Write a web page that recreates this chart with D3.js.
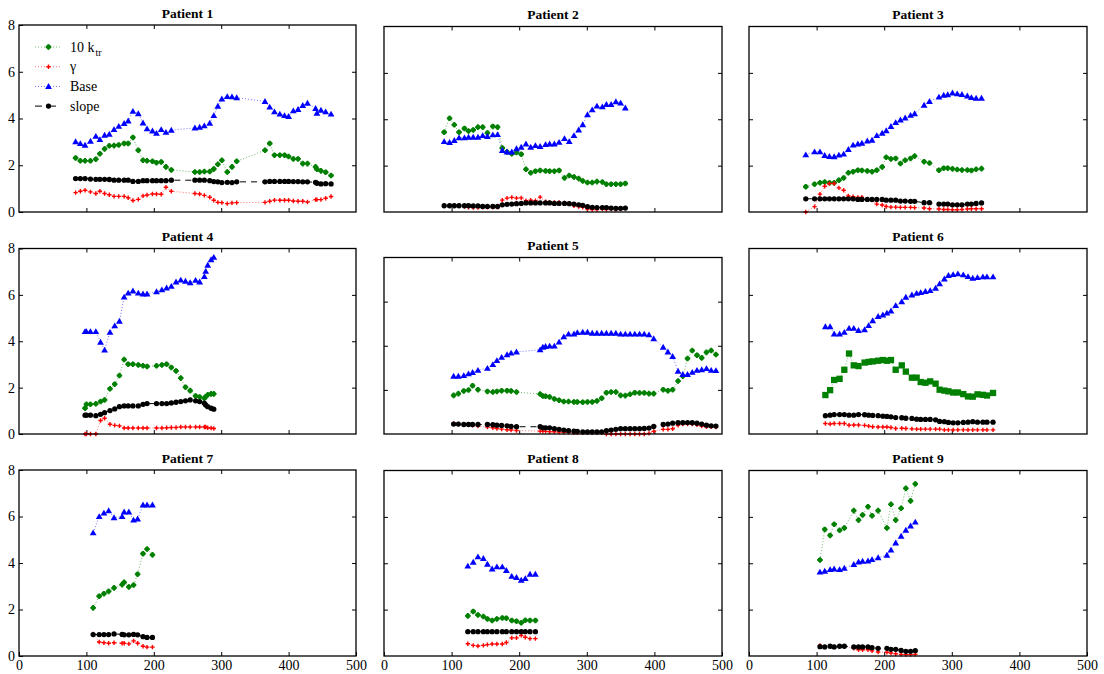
<!DOCTYPE html>
<html>
<head>
<meta charset="utf-8">
<script src="https://cdn.jsdelivr.net/npm/d3@7"></script>
<style>
  body { margin: 0; background: #fff; }
  svg { display: block; }
  text { font-family: "Liberation Serif", "Times New Roman", serif; fill: #000; }
</style>
</head>
<body>
<svg id="chart" width="1104" height="674"></svg>
<script>
// ---- data: day of measurement and fitted parameters per patient ----
const days1  = [84,91,98,106,114,120,127,134,141,148,156,162,169,177,184,190,198,204,211,218,226,261,268,275,283,289,295,301,309,316,323,365,372,379,387,394,400,407,414,421,428,440,442,448,455,463];
const ktr1   = [2.31,2.19,2.19,2.19,2.26,2.49,2.7,2.83,2.84,2.87,2.93,2.93,3.19,2.64,2.21,2.19,2.17,2.11,2.14,1.93,1.8,1.71,1.71,1.73,1.73,1.84,2.04,2.21,1.71,1.93,2.17,2.64,2.93,2.43,2.43,2.43,2.37,2.27,2.27,2.07,2.07,1.93,1.83,1.76,1.7,1.56];
const gamma1 = [0.83,0.89,0.93,0.86,0.79,0.89,0.79,0.74,0.67,0.67,0.67,0.61,0.49,0.54,0.69,0.73,0.77,0.77,0.76,1.06,0.89,0.79,0.77,0.71,0.63,0.5,0.41,0.4,0.36,0.39,0.4,0.41,0.46,0.51,0.5,0.5,0.5,0.47,0.46,0.46,0.43,0.53,0.53,0.53,0.59,0.66];
const base1  = [3.01,2.93,2.86,3.03,3.24,3.1,3.29,3.33,3.53,3.67,3.79,3.9,4.31,4.21,3.81,3.56,3.47,3.37,3.53,3.41,3.5,3.6,3.63,3.69,3.8,4.13,4.53,4.84,4.94,4.93,4.89,4.73,4.49,4.29,4.19,4.13,4.09,4.33,4.39,4.56,4.66,4.43,4.23,4.36,4.29,4.19];
const slope1 = [1.43,1.43,1.43,1.41,1.4,1.4,1.4,1.39,1.36,1.36,1.36,1.36,1.31,1.31,1.34,1.34,1.34,1.34,1.34,1.34,1.36,1.36,1.36,1.36,1.34,1.3,1.29,1.26,1.27,1.26,1.29,1.29,1.31,1.31,1.31,1.31,1.31,1.3,1.3,1.29,1.29,1.27,1.23,1.2,1.21,1.2];

const days2  = [89,97,104,111,119,125,132,139,146,153,161,168,175,182,189,196,203,210,217,224,231,239,245,252,259,267,274,281,288,294,301,308,315,323,329,336,343,350,357];
const ktr2   = [3.44,4.04,3.76,3.44,3.6,3.49,3.54,3.66,3.66,3.41,3.69,3.66,2.76,2.59,2.51,2.57,2.49,1.84,1.69,1.76,1.79,1.77,1.76,1.76,1.79,1.47,1.57,1.51,1.44,1.34,1.27,1.27,1.31,1.29,1.2,1.2,1.2,1.2,1.23];
const gamma2 = [0.27,0.27,0.27,0.27,0.23,0.2,0.19,0.19,0.2,0.2,0.2,0.2,0.51,0.6,0.63,0.6,0.61,0.49,0.51,0.49,0.64,0.44,0.41,0.41,0.41,0.39,0.36,0.27,0.23,0.2,0.13,0.11,0.11,0.13,0.11,0.13,0.11,0.13,0.17];
const base2  = [3.04,3.0,3.09,3.2,3.2,3.23,3.23,3.23,3.3,3.26,3.33,3.34,2.66,2.59,2.59,2.73,2.8,2.94,2.8,2.87,2.83,2.91,2.94,2.94,3.01,3.17,3.04,3.3,3.54,3.77,4.2,4.41,4.57,4.54,4.64,4.64,4.76,4.7,4.49];
const slope2 = [0.27,0.27,0.27,0.27,0.27,0.27,0.26,0.26,0.24,0.24,0.24,0.24,0.31,0.33,0.34,0.36,0.37,0.39,0.39,0.39,0.39,0.39,0.39,0.37,0.37,0.37,0.36,0.34,0.31,0.29,0.23,0.2,0.19,0.19,0.19,0.17,0.16,0.16,0.17];

const days3  = [84,97,105,112,119,126,133,140,147,154,161,167,175,182,189,197,203,210,217,224,231,239,245,259,267,281,288,294,301,308,315,323,329,336,344];
const ktr3   = [1.09,1.2,1.26,1.29,1.26,1.26,1.37,1.47,1.69,1.74,1.8,1.79,1.77,1.74,1.8,1.94,2.36,2.29,2.31,2.09,2.23,2.31,2.41,2.17,2.11,1.8,1.89,1.89,1.86,1.83,1.81,1.81,1.79,1.84,1.87];
const gamma3 = [0,0.23,0.77,1.11,1.23,1.23,1.04,0.94,0.69,0.66,0.63,0.64,0.54,0.51,0.34,0.3,0.24,0.21,0.21,0.2,0.2,0.2,0.19,0.17,0.14,0.13,0.11,0.11,0.1,0.1,0.11,0.13,0.14,0.14,0.14];
const base3  = [2.47,2.6,2.6,2.44,2.4,2.39,2.46,2.5,2.7,2.89,2.94,2.97,3.07,3.1,3.3,3.4,3.51,3.69,3.86,3.97,4.06,4.17,4.24,4.61,4.77,4.96,5.04,5.06,5.14,5.1,5.07,5.01,4.94,4.91,4.91];
const slope3 = [0.57,0.57,0.57,0.57,0.57,0.57,0.57,0.57,0.57,0.57,0.54,0.54,0.54,0.54,0.54,0.54,0.51,0.51,0.51,0.47,0.47,0.46,0.46,0.4,0.4,0.34,0.34,0.34,0.31,0.31,0.31,0.34,0.34,0.37,0.39];

const days4  = [98,100,106,114,121,127,135,142,149,156,162,169,177,184,190,204,212,219,226,233,240,247,254,262,268,275,277,280,285,289];
const ktr4   = [1.11,1.28,1.28,1.3,1.4,1.47,1.95,2.15,2.52,3.21,3.01,3.01,2.98,2.94,2.91,2.94,2.98,3.01,2.87,2.72,2.41,2.02,1.87,1.64,1.6,1.54,1.61,1.69,1.73,1.73];
const gamma4 = [0,0,0,0,0.58,0.68,0.42,0.37,0.35,0.26,0.26,0.26,0.26,0.26,0.26,0.26,0.26,0.27,0.28,0.28,0.3,0.3,0.3,0.3,0.3,0.3,0.3,0.27,0.26,0.24];
const base4  = [4.42,4.42,4.42,4.42,3.96,3.62,4.39,4.67,4.87,5.91,6.08,6.17,6.08,6.04,6.04,6.14,6.22,6.3,6.37,6.56,6.64,6.59,6.53,6.63,6.56,6.79,7.02,7.28,7.52,7.62];
const slope4 = [0.81,0.81,0.81,0.79,0.85,0.92,1.01,1.08,1.18,1.21,1.21,1.21,1.21,1.28,1.31,1.31,1.31,1.31,1.34,1.37,1.4,1.43,1.47,1.43,1.4,1.33,1.25,1.18,1.11,1.07];

const days5  = [103,110,118,125,131,139,153,161,167,174,182,188,196,231,235,239,245,252,259,266,273,281,286,294,301,308,315,322,329,336,343,350,357,364,371,378,385,392,399,413,420,427,435,442,449,456,463,470,477,484,491];
const ktr5   = [1.75,1.83,1.95,1.99,2.19,2.01,1.93,1.9,1.93,1.96,1.96,1.95,1.9,1.81,1.72,1.71,1.68,1.59,1.53,1.47,1.47,1.45,1.45,1.44,1.45,1.45,1.5,1.62,1.87,1.9,1.9,1.75,1.74,1.8,1.87,1.86,1.86,1.83,1.83,2.01,1.96,2.01,2.4,2.62,3.42,3.78,3.57,3.45,3.7,3.78,3.6];
const gamma5 = [0.48,0.45,0.43,0.43,0.4,0.36,0.31,0.28,0.25,0.22,0.19,0.18,0.16,0.13,0.12,0.12,0.1,0.1,0.09,0.08,0.08,0.06,0.06,0.06,0.06,0.06,0.06,0.06,0,0,0,0,0,0,0,0,0,0.03,0.12,0.21,0.21,0.24,0.4,0.45,0.45,0.45,0.42,0.36,0.33,0.33,0.31];
const base5  = [2.62,2.62,2.65,2.73,2.79,2.89,2.98,3.15,3.33,3.48,3.6,3.67,3.72,3.82,3.94,3.97,3.99,3.99,4.17,4.41,4.53,4.54,4.6,4.62,4.62,4.57,4.57,4.57,4.57,4.57,4.57,4.53,4.53,4.53,4.53,4.53,4.53,4.5,4.32,3.94,3.72,3.52,2.85,2.7,2.7,2.8,2.89,2.92,2.97,2.89,2.88];
const slope5 = [0.45,0.45,0.43,0.43,0.43,0.43,0.43,0.42,0.4,0.39,0.37,0.34,0.33,0.33,0.28,0.28,0.28,0.24,0.21,0.18,0.15,0.13,0.12,0.1,0.1,0.1,0.1,0.1,0.15,0.18,0.21,0.24,0.24,0.24,0.24,0.24,0.25,0.27,0.34,0.43,0.45,0.49,0.51,0.51,0.52,0.51,0.49,0.45,0.4,0.37,0.36];

const days6  = [113,120,126,134,141,148,155,162,171,177,183,191,198,204,210,217,226,232,241,248,254,261,268,276,282,289,295,302,309,317,324,331,338,346,352,361];
const ktr6   = [1.68,1.89,2.33,2.38,2.77,3.47,2.96,2.93,3.08,3.11,3.13,3.16,3.19,3.16,3.19,2.77,2.96,2.69,2.43,2.43,2.24,2.21,2.27,2.17,1.91,1.87,1.84,1.79,1.79,1.72,1.62,1.61,1.71,1.69,1.66,1.77];
const gamma6 = [0.45,0.43,0.45,0.45,0.45,0.38,0.39,0.39,0.37,0.34,0.31,0.3,0.3,0.3,0.28,0.24,0.25,0.24,0.22,0.21,0.21,0.21,0.21,0.21,0.21,0.18,0.18,0.18,0.18,0.18,0.18,0.18,0.18,0.18,0.18,0.18];
const base6  = [4.63,4.63,4.32,4.32,4.39,4.56,4.56,4.47,4.5,4.68,4.89,5.07,5.14,5.22,5.31,5.54,5.71,5.9,6.0,6.07,6.1,6.15,6.19,6.29,6.48,6.69,6.84,6.88,6.91,6.87,6.79,6.72,6.75,6.78,6.78,6.78];
const slope6 = [0.79,0.81,0.84,0.84,0.84,0.81,0.81,0.84,0.83,0.81,0.8,0.79,0.77,0.76,0.74,0.71,0.7,0.68,0.67,0.64,0.63,0.63,0.63,0.61,0.54,0.53,0.5,0.48,0.48,0.5,0.51,0.53,0.51,0.51,0.51,0.51];

const days7  = [110,119,126,133,141,153,156,163,170,176,184,190,198];
const ktr7   = [2.07,2.57,2.68,2.78,2.93,3.07,3.17,2.97,3.05,3.52,4.4,4.6,4.35];
const gamma7 = [0.95,0.6,0.57,0.55,0.57,0.55,0.55,0.52,0.65,0.55,0.42,0.38,0.38];
const base7  = [5.3,6.0,6.15,6.25,5.95,6.0,6.2,6.2,5.85,5.9,6.5,6.5,6.5];
const slope7 = [0.92,0.92,0.92,0.92,0.95,0.93,0.91,0.91,0.93,0.91,0.83,0.8,0.8];

const days8  = [124,132,139,147,153,160,167,175,181,189,196,203,209,216,224];
const ktr8   = [1.73,1.92,1.77,1.7,1.6,1.53,1.6,1.64,1.63,1.53,1.5,1.43,1.54,1.53,1.53];
const gamma8 = [0.53,0.46,0.43,0.46,0.49,0.52,0.52,0.52,0.58,0.78,0.78,0.89,0.81,0.75,0.75];
const base8  = [3.88,4.05,4.28,4.21,3.96,3.76,3.85,3.85,3.69,3.44,3.39,3.27,3.34,3.53,3.53];
const slope8 = [1.05,1.05,1.05,1.05,1.05,1.05,1.05,1.05,1.05,1.05,1.05,1.05,1.05,1.05,1.05];

const days9  = [105,112,120,126,134,141,155,162,168,176,182,191,204,210,217,225,232,239,246];
const ktr9   = [4.14,5.46,5.2,5.68,5.42,5.52,6.27,5.86,6.08,6.44,6.05,6.27,5.52,6.54,5.86,6.37,7.23,6.69,7.42];
const gamma9 = [0.46,0.39,0.42,0.39,0.42,0.42,0.33,0.27,0.27,0.27,0.22,0.17,0.16,0.13,0.1,0.07,0.06,0.06,0.07];
const base9  = [3.62,3.66,3.73,3.76,3.73,3.79,3.95,4.06,4.09,4.1,4.16,4.24,4.35,4.57,4.88,5.17,5.43,5.61,5.78];
const slope9 = [0.4,0.39,0.42,0.39,0.42,0.42,0.39,0.39,0.39,0.39,0.36,0.33,0.33,0.29,0.29,0.24,0.2,0.2,0.23];

const xTicks = [0, 100, 200, 300, 400, 500];
const yTicks = [0, 2, 4, 6, 8];
const seriesNames = ["10 k", "γ", "Base", "slope"];

const patients = [
  { name: "Patient 1", days: days1, series: [ktr1, gamma1, base1, slope1] },
  { name: "Patient 2", days: days2, series: [ktr2, gamma2, base2, slope2] },
  { name: "Patient 3", days: days3, series: [ktr3, gamma3, base3, slope3] },
  { name: "Patient 4", days: days4, series: [ktr4, gamma4, base4, slope4] },
  { name: "Patient 5", days: days5, series: [ktr5, gamma5, base5, slope5] },
  { name: "Patient 6", days: days6, series: [ktr6, gamma6, base6, slope6] },
  { name: "Patient 7", days: days7, series: [ktr7, gamma7, base7, slope7] },
  { name: "Patient 8", days: days8, series: [ktr8, gamma8, base8, slope8] },
  { name: "Patient 9", days: days9, series: [ktr9, gamma9, base9, slope9] }
];

// ---- layout of the 3x3 grid of axes boxes ----
const colX = [[19, 356], [384, 722], [749, 1087]];
const rowBottom = [212, 434, 656];
const boxTop = [25, 26.5, 26.5, 248.5, 257.5, 248.5, 470, 470.5, 470.5];

// line / marker styles for each series
const styles = [
  { color: "#008000", line: "#6fb86f", dash: "1,2",  marker: "blob" },
  { color: "#ff0000", line: "#ff7070", dash: "1,2",  marker: "plus" },
  { color: "#0000ff", line: "#7070ff", dash: "1,2",  marker: "triangle" },
  { color: "#000000", line: "#000000", dash: "6,5",  marker: "circle" }
];

const svg = d3.select("#chart");

function drawMarker(g, kind, color, cx, cy) {
  if (kind === "plus") {
    g.append("path")
      .attr("d", `M${cx - 2.2},${cy}H${cx + 2.2}M${cx},${cy - 2.2}V${cy + 2.2}`)
      .attr("stroke", color).attr("stroke-width", 1.4).attr("fill", "none");
    return;
  }
  if (kind === "blob") {
    // rounded plus: small cross over a filled disc
    g.append("path").attr("d", d3.symbol(d3.symbolCross, 17)())
      .attr("transform", `translate(${cx},${cy})`).attr("fill", color);
    g.append("circle").attr("cx", cx).attr("cy", cy).attr("r", 2.4).attr("fill", color);
    return;
  }
  const sym = {
    square:   d3.symbol(d3.symbolSquare, 40),
    triangle: d3.symbol(d3.symbolTriangle, 20),
    circle:   d3.symbol(d3.symbolCircle, 22)
  }[kind];
  const dy = kind === "triangle" ? 0.6 : 0;
  g.append("path")
    .attr("d", sym())
    .attr("transform", `translate(${cx},${cy + dy})`)
    .attr("fill", color);
}

patients.forEach((p, i) => {
  const col = i % 3, row = Math.floor(i / 3);
  const [x0, x1] = colX[col];
  const y0 = boxTop[i], y1 = rowBottom[row];

  const x = d3.scaleLinear().domain([0, 500]).range([x0, x1]);
  const y = d3.scaleLinear().domain([0, 8]).range([y1, y0]);

  const g = svg.append("g");

  // title
  g.append("text")
    .attr("x", (x0 + x1) / 2).attr("y", y0 - 7.5)
    .attr("text-anchor", "middle")
    .attr("font-weight", "bold").attr("font-size", 13.5)
    .text(p.name);

  // axes with inward ticks on all four sides
  const bottom = d3.axisBottom(x).tickValues(row === 2 ? xTicks : xTicks.slice(1, 5))
    .tickSize(-4).tickPadding(4);
  if (row !== 2) bottom.tickFormat("");
  const top = d3.axisTop(x).tickValues(xTicks.slice(1, 5)).tickSize(-4).tickFormat("");
  const left = d3.axisLeft(y).tickValues(col === 0 ? yTicks : yTicks.slice(1, 4))
    .tickSize(-4).tickPadding(4);
  if (col !== 0) left.tickFormat("");
  const right = d3.axisRight(y).tickValues(yTicks.slice(1, 4)).tickSize(-4).tickFormat("");

  [[bottom, `translate(0,${y1})`], [top, `translate(0,${y0})`],
   [left, `translate(${x0},0)`], [right, `translate(${x1},0)`]].forEach(([ax, tr]) => {
    const a = g.append("g").attr("transform", tr).call(ax);
    a.attr("font-family", null);
    a.select(".domain").remove();
    a.selectAll("line").attr("stroke", "#000").attr("stroke-width", 1);
    a.selectAll("text").attr("font-size", 14);
  });

  // series: dotted/dashed connecting lines, then markers
  const plot = g.append("g");
  p.series.forEach((vals, s) => {
    const st = styles[s];
    const pts = p.days.map((d, k) => [d, vals[k]]);
    plot.append("path")
      .datum(pts)
      .attr("d", d3.line().x(d => x(d[0])).y(d => y(d[1])))
      .attr("fill", "none")
      .attr("stroke", st.line)
      .attr("stroke-width", 1)
      .attr("stroke-dasharray", st.dash);
    const kind = (s === 0 && p.name === "Patient 6") ? "square" : st.marker;
    pts.forEach(d => drawMarker(plot, kind, st.color, x(d[0]), y(d[1])));
  });

  // box
  g.append("rect")
    .attr("x", x0).attr("y", y0)
    .attr("width", x1 - x0).attr("height", y1 - y0)
    .attr("fill", "none").attr("stroke", "#000").attr("stroke-width", 1.3);

  // legend in the first panel
  if (i === 0) {
    const lg = g.append("g");
    seriesNames.forEach((name, s) => {
      const st = styles[s];
      const ly = 47 + s * 19.7;
      lg.append("line")
        .attr("x1", 35).attr("x2", 62).attr("y1", ly).attr("y2", ly)
        .attr("stroke", st.line).attr("stroke-width", 1)
        .attr("stroke-dasharray", s === 3 ? "7,7" : st.dash);
      drawMarker(lg, st.marker, st.color, 48.5, ly);
      const t = lg.append("text")
        .attr("x", 70).attr("y", ly + 4.5)
        .attr("font-size", 14);
      t.append("tspan").text(name);
      if (s === 0) {
        t.append("tspan").attr("font-size", 10).attr("dy", 4).attr("dx", 1).text("tr");
      }
    });
  }
});
</script>
</body>
</html>
